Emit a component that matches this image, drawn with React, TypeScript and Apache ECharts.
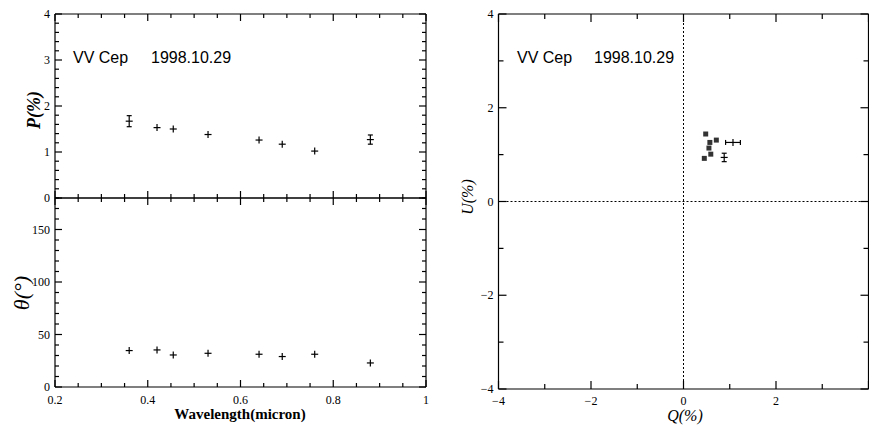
import React, { useEffect, useRef } from "react";
import * as echarts from "echarts";

// Wavelength-dependent polarization
const wavelengths = [0.36, 0.42, 0.455, 0.53, 0.64, 0.69, 0.76, 0.88];
const polarization = [1.67, 1.53, 1.5, 1.38, 1.26, 1.17, 1.02, 1.27];
const polarizationErr = [0.12, 0.03, 0.03, 0.03, 0.03, 0.03, 0.03, 0.1];
const angle = [34.7, 35.3, 30.5, 32.1, 31.2, 29.0, 31.2, 22.9];
const angleErr = [1, 1, 1, 1, 1, 1, 1, 1];

// Q-U plane
const qPoints = [0.48, 0.57, 0.71, 0.55, 0.59, 0.45];
const uPoints = [1.44, 1.26, 1.31, 1.14, 1.01, 0.92];
const qErrQ = [1.07, 0.88];
const qErrU = [1.26, 0.94];
const qErrQe = [0.16, 0.06];
const qErrUe = [0.07, 0.09];

const SERIF = "'Liberation Serif', 'DejaVu Serif', serif";
const SANS = "'Liberation Sans', Arial, sans-serif";

const errRender = (params: any, api: any) => {
  const x = api.value(0), y = api.value(1), xe = api.value(2), ye = api.value(3);
  const c = api.coord([x, y]);
  const xl = api.coord([x - xe, y])[0];
  const xr = api.coord([x + xe, y])[0];
  const yt = api.coord([x, y + ye])[1];
  const yb = api.coord([x, y - ye])[1];
  const h = 3.5;
  const left = Math.min(xl, c[0] - h), right = Math.max(xr, c[0] + h);
  const top = Math.min(yt, c[1] - h), bottom = Math.max(yb, c[1] + h);
  const st = { stroke: "#000", lineWidth: 1.2 };
  const children: any[] = [
    { type: "line", shape: { x1: left, y1: c[1], x2: right, y2: c[1] }, style: st },
    { type: "line", shape: { x1: c[0], y1: top, x2: c[0], y2: bottom }, style: st },
  ];
  if (c[1] - yt > h + 0.5) {
    children.push({ type: "line", shape: { x1: c[0] - 2.5, y1: top, x2: c[0] + 2.5, y2: top }, style: st });
    children.push({ type: "line", shape: { x1: c[0] - 2.5, y1: bottom, x2: c[0] + 2.5, y2: bottom }, style: st });
  }
  if (xr - c[0] > h + 0.5) {
    children.push({ type: "line", shape: { x1: left, y1: c[1] - 2.5, x2: left, y2: c[1] + 2.5 }, style: st });
    children.push({ type: "line", shape: { x1: right, y1: c[1] - 2.5, x2: right, y2: c[1] + 2.5 }, style: st });
  }
  return { type: "group", children };
};

const minus = (v: number) => String(v).replace("-", "\u2212");

function axis(extra: any) {
  return {
    type: "value",
    axisLine: { show: false, onZero: false },
    axisTick: { show: false },
    minorTick: { show: false },
    splitLine: { show: false },
    minorSplitLine: { show: false },
    axisLabel: { show: false },
    ...extra,
  };
}

const lbl = (extra: any = {}) => ({ show: true, color: "#000", fontFamily: SERIF, fontSize: 12, margin: 5, ...extra });

const texts = [
  { type: "text", x: 73, y: 57, style: { text: "VV Cep", font: `16px ${SANS}`, fill: "#000", verticalAlign: "middle" } },
  { type: "text", x: 151, y: 57, style: { text: "1998.10.29", font: `16px ${SANS}`, fill: "#000", verticalAlign: "middle" } },
  { type: "text", x: 517, y: 57, style: { text: "VV Cep", font: `16px ${SANS}`, fill: "#000", verticalAlign: "middle" } },
  { type: "text", x: 594, y: 57, style: { text: "1998.10.29", font: `16px ${SANS}`, fill: "#000", verticalAlign: "middle" } },
  { type: "text", x: 34, y: 110, rotation: Math.PI / 2, style: { text: "P(%)", font: `italic bold 18px ${SERIF}`, fill: "#000", align: "center", verticalAlign: "middle" } },
  { type: "text", x: 21, y: 293, rotation: Math.PI / 2, style: { text: "θ(°)", font: `italic 22px ${SERIF}`, fill: "#000", align: "center", verticalAlign: "middle" } },
  { type: "text", x: 240, y: 414, style: { text: "Wavelength(micron)", font: `bold 15px ${SERIF}`, fill: "#000", align: "center", verticalAlign: "middle" } },
  { type: "text", x: 467, y: 197, rotation: Math.PI / 2, style: { text: "U(%)", font: `italic 16px ${SERIF}`, fill: "#000", align: "center", verticalAlign: "middle" } },
  { type: "text", x: 685, y: 415, style: { text: "Q(%)", font: `italic 16px ${SERIF}`, fill: "#000", align: "center", verticalAlign: "middle" } },
];

export default function App() {
  const ref = useRef<HTMLDivElement>(null);
  useEffect(() => {
    if (!ref.current) return;
    const chart = echarts.init(ref.current, undefined, { renderer: "svg" });

    const wl = { min: 0.2, max: 1, interval: 0.2 };
    const pr = { min: 0, max: 4, interval: 1 };
    const th = { min: 0, max: 180, interval: 50 };
    const qu = { min: -4, max: 4, interval: 2 };

    const option: any = {
      animation: false,
      grid: [
        { left: 55, top: 14, width: 371, height: 184 },
        { left: 55, top: 198, width: 371, height: 189 },
        { left: 498.5, top: 14, width: 370, height: 375 },
      ],
      xAxis: [
        axis({ gridIndex: 0, position: "bottom", ...wl }),
        axis({ gridIndex: 1, position: "bottom", ...wl, axisLabel: lbl({ margin: 7 }) }),
        axis({ gridIndex: 2, position: "bottom", ...qu, axisLabel: lbl({ margin: 6, showMaxLabel: false, formatter: minus }) }),
      ],
      yAxis: [
        axis({ gridIndex: 0, position: "left", ...pr, axisLabel: lbl() }),
        axis({ gridIndex: 1, position: "left", ...th, axisLabel: lbl({ showMaxLabel: false }) }),
        axis({ gridIndex: 2, position: "left", ...qu, axisLabel: lbl({ formatter: minus }) }),
      ],
      series: [
        {
          type: "custom",
          name: "P",
          xAxisIndex: 0,
          yAxisIndex: 0,
          renderItem: errRender,
          data: wavelengths.map((w, i) => [w, polarization[i], 0, polarizationErr[i]]),
        },
        {
          type: "custom",
          name: "Theta",
          xAxisIndex: 1,
          yAxisIndex: 1,
          renderItem: errRender,
          data: wavelengths.map((w, i) => [w, angle[i], 0, angleErr[i]]),
        },
        {
          type: "scatter",
          name: "QU",
          xAxisIndex: 2,
          yAxisIndex: 2,
          symbol: "rect",
          symbolSize: 5,
          itemStyle: { color: "#000" },
          data: qPoints.map((q, i) => [q, uPoints[i]]),
          markLine: {
            silent: true,
            symbol: ["none", "none"],
            label: { show: false },
            lineStyle: { color: "#000", type: [2, 2], width: 1 },
            data: [{ xAxis: 0 }, { yAxis: 0 }],
          },
        },
        {
          type: "custom",
          name: "QUerr",
          xAxisIndex: 2,
          yAxisIndex: 2,
          renderItem: errRender,
          data: qErrQ.map((q, i) => [q, qErrU[i], qErrQe[i], qErrUe[i]]),
        },
      ],
    };
    chart.setOption(option);

    // Frames and inward ticks, positioned through each grid's scales
    const st = { stroke: "#000", lineWidth: 1.2 };
    const frames: any[] = [];
    const buildFrame = (
      gridIndex: number,
      xr: number[], xStep: number, xMinor: number,
      yr: number[], yStep: number, yMinor: number,
      majorLen: number, minorLen: number
    ) => {
      const p = (x: number, y: number) => chart.convertToPixel({ gridIndex } as any, [x, y]) as number[];
      const lb = p(xr[0], yr[0]);
      const rt = p(xr[1], yr[1]);
      const L = lb[0], B = lb[1], R = rt[0], T = rt[1];
      const line = (x1: number, y1: number, x2: number, y2: number) =>
        frames.push({ type: "line", silent: true, z: 50, shape: { x1, y1, x2, y2 }, style: st });
      line(L, T, R, T);
      line(L, B, R, B);
      line(L, T, L, B);
      line(R, T, R, B);
      const isMajor = (v: number, s: number) => Math.abs(v / s - Math.round(v / s)) < 1e-6;
      for (let k = 0; ; k++) {
        const v = xr[0] + k * xMinor;
        if (v > xr[1] + 1e-9) break;
        const px = p(v, yr[0])[0];
        const len = isMajor(v, xStep) ? majorLen : minorLen;
        line(px, B, px, B - len);
        line(px, T, px, T + len);
      }
      for (let k = 0; ; k++) {
        const v = yr[0] + k * yMinor;
        if (v > yr[1] + 1e-9) break;
        const py = p(xr[0], v)[1];
        const len = isMajor(v, yStep) ? majorLen : minorLen;
        line(L, py, L + len, py);
        line(R, py, R - len, py);
      }
    };
    buildFrame(0, [0.2, 1], 0.2, 0.05, [0, 4], 1, 0.2, 7, 4);
    buildFrame(1, [0.2, 1], 0.2, 0.05, [0, 180], 50, 10, 7, 4);
    buildFrame(2, [-4, 4], 2, 1, [-4, 4], 2, 1, 8, 5);

    chart.setOption({ graphic: [...texts, ...frames] });
    return () => chart.dispose();
  }, []);
  return <div ref={ref} style={{ position: "absolute", left: 0, top: 0, width: 869, height: 429 }} />;
}
